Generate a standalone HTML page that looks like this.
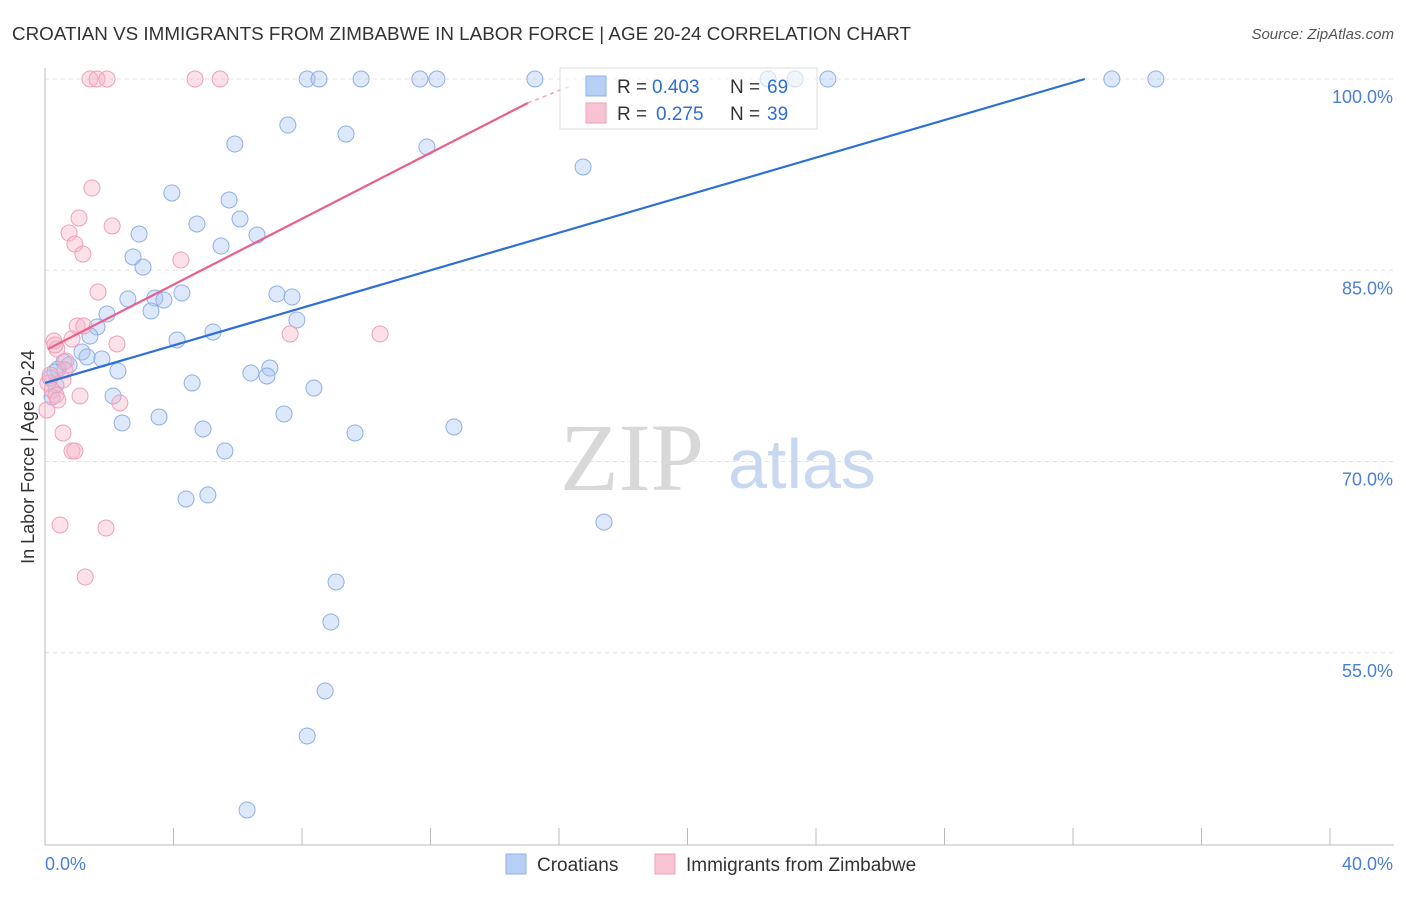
<!DOCTYPE html>
<html><head><meta charset="utf-8"><style>
body{margin:0;background:#fff;font-family:"Liberation Sans",sans-serif;}
svg text{font-family:"Liberation Sans",sans-serif;}
</style></head><body>
<svg id="chart" width="1406" height="892" xmlns="http://www.w3.org/2000/svg">
<text x="12" y="40" font-size="18" fill="#333" textLength="899" lengthAdjust="spacingAndGlyphs">CROATIAN VS IMMIGRANTS FROM ZIMBABWE IN LABOR FORCE | AGE 20-24 CORRELATION CHART</text>
<text x="1394" y="39" font-size="15" fill="#555" text-anchor="end" font-style="italic">Source: ZipAtlas.com</text>
<g id="grid"></g>
<g>
<text x="632" y="490" font-size="96" fill="#d8d8d8" text-anchor="middle" style="font-family:'Liberation Serif',serif">ZIP</text>
<text x="802" y="488" font-size="70" fill="#c8d8f0" text-anchor="middle">atlas</text>
</g>
<line x1="45" y1="68" x2="45" y2="845" stroke="#bbb"/>
<line x1="45" y1="845" x2="1394" y2="845" stroke="#bbb"/>
<g id="ticks"></g>
<text transform="translate(34,457) rotate(-90)" font-size="18" fill="#333" text-anchor="middle">In Labor Force | Age 20-24</text>
<text x="45" y="870" font-size="18" fill="#4a7fd4">0.0%</text>
<text x="1393" y="870" font-size="18" fill="#4a7fd4" text-anchor="end">40.0%</text>
<g id="points"></g>
<g id="trends"></g>
<g>
<rect x="560" y="68" width="257" height="61" fill="#fff" fill-opacity="0.6" stroke="#ddd"/>
<rect x="586" y="76" width="20" height="20" fill="#b8cff5" stroke="#8fb0e6"/>
<text x="617" y="93" font-size="19" fill="#333">R =</text>
<text x="652" y="93" font-size="19" fill="#2e6fd6">0.403</text>
<text x="730" y="93" font-size="19" fill="#333">N =</text>
<text x="767" y="93" font-size="19" fill="#2e6fd6">69</text>
<rect x="586" y="103" width="20" height="20" fill="#f8c4d4" stroke="#f0a0b8"/>
<text x="617" y="120" font-size="19" fill="#333">R =</text>
<text x="656" y="120" font-size="19" fill="#2e6fd6">0.275</text>
<text x="730" y="120" font-size="19" fill="#333">N =</text>
<text x="767" y="120" font-size="19" fill="#2e6fd6">39</text>
</g>
<g>
<rect x="506" y="854" width="20" height="20" fill="#b8cff5" stroke="#8fb0e6"/>
<text x="537" y="871" font-size="19" fill="#333">Croatians</text>
<rect x="655" y="854" width="20" height="20" fill="#f8c4d4" stroke="#f0a0b8"/>
<text x="686" y="871" font-size="19" fill="#333">Immigrants from Zimbabwe</text>
</g>
</svg>
<script>
const yTicks=[100,85,70,55];
const yTickLabels=["100.0%","85.0%","70.0%","55.0%"];
const xTicks=[0,4,8,12,16,20,24,28,32,36,40];
const croatX=[8.16,8.53,9.84,11.67,12.20,15.25,22.51,23.35,24.37,33.21,34.58,7.56,9.37,5.91,11.89,16.75,3.95,5.73,4.73,6.07,2.93,6.60,5.48,2.74,3.05,4.26,2.58,3.42,3.70,7.22,7.69,3.30,1.93,7.84,1.62,5.23,1.40,4.11,1.15,1.77,1.31,0.59,0.75,2.27,0.40,7.00,6.41,6.91,4.58,8.37,0.34,2.12,0.22,7.44,3.55,2.40,9.65,12.73,4.92,5.60,5.07,4.39,17.40,9.06,8.90,8.72,8.16,6.29,0.16,0.31];
const croatY=[100,100,100,100,100,100,100,100,100,100,100,96.39,95.69,94.90,94.67,93.10,91.06,90.51,88.63,89.02,87.84,87.76,86.90,86.04,85.25,83.22,82.75,82.82,82.67,83.14,82.90,81.80,81.57,81.10,80.55,80.16,79.84,79.53,78.59,78.04,78.20,77.80,77.57,77.10,77.25,77.33,76.94,76.71,76.16,75.76,76.00,75.14,75.06,73.73,73.49,73.02,72.24,72.71,72.55,70.82,67.37,67.06,65.25,60.55,57.41,52.00,48.47,42.67,76.55,77.02];
const zimX=[1.40,1.62,1.93,4.67,5.45,1.46,1.06,2.09,0.75,0.93,1.18,4.23,1.65,1.00,1.21,2.24,0.84,0.28,0.37,7.63,10.43,0.65,0.56,0.09,0.22,0.34,1.09,2.33,0.06,0.56,0.84,0.93,0.47,1.90,1.25,0.40,0.16,0.62,0.31];
const zimY=[100,100,100,100,100,91.45,89.10,88.47,87.92,87.06,86.27,85.80,83.29,80.63,80.63,79.22,79.61,79.45,78.82,80.00,80.00,77.88,76.39,76.16,75.61,75.22,75.14,74.59,74.04,72.24,70.82,70.82,65.02,64.78,60.94,74.82,76.78,77.18,79.14];
const croatTrend=[[0,76.16],[32.37,100]];
const zimTrend=[[0.09,78.82],[15.03,98.12]];
const zimTrendDash=[[15.03,98.12],[16.4,99.5]];
const NS="http://www.w3.org/2000/svg";
const xs=v=>45+v*1285/40;
const ys=v=>79+(100-v)*12.75;
function mk(tag,attrs,parent){const e=document.createElementNS(NS,tag);for(const k in attrs)e.setAttribute(k,attrs[k]);document.getElementById(parent).appendChild(e);return e;}
yTicks.forEach((t,i)=>{
 const l=mk('line',{x1:45,x2:1394,y1:ys(t),y2:ys(t),stroke:'#e2e2e2','stroke-dasharray':'4,4'},'grid');
 
 
 const tx=mk('text',{x:1393,y:ys(t)+24,'font-size':18,fill:'#4a7fd4','text-anchor':'end'},'grid');
 tx.textContent=yTickLabels[i];
 
 
});
xTicks.forEach(t=>{
 const l=mk('line',{x1:xs(t),x2:xs(t),y1:828,y2:845,stroke:'#bbb'},'ticks');
 
 
});
croatX.forEach((x,i)=>{
 const c=mk('circle',{cx:xs(x),cy:ys(croatY[i]),r:8,fill:'rgba(170,198,242,0.4)',stroke:'#8fb0e6','stroke-width':1},'points');
 
 
});
zimX.forEach((x,i)=>{
 const c=mk('circle',{cx:xs(x),cy:ys(zimY[i]),r:8,fill:'rgba(248,180,200,0.4)',stroke:'#f0a0b8','stroke-width':1},'points');
 
 
});
const bl=mk('line',{x1:xs(croatTrend[0][0]),y1:ys(croatTrend[0][1]),x2:xs(croatTrend[1][0]),y2:ys(croatTrend[1][1]),stroke:'#2e6fd6','stroke-width':2.2},'trends');


const pl=mk('line',{x1:xs(zimTrend[0][0]),y1:ys(zimTrend[0][1]),x2:xs(zimTrend[1][0]),y2:ys(zimTrend[1][1]),stroke:'#e8608c','stroke-width':2.2},'trends');


const pd=mk('line',{x1:xs(zimTrendDash[0][0]),y1:ys(zimTrendDash[0][1]),x2:xs(zimTrendDash[1][0]),y2:ys(zimTrendDash[1][1]),stroke:'#f0a0b8','stroke-width':1.5,'stroke-dasharray':'4,4'},'trends');


</script>
</body></html>
